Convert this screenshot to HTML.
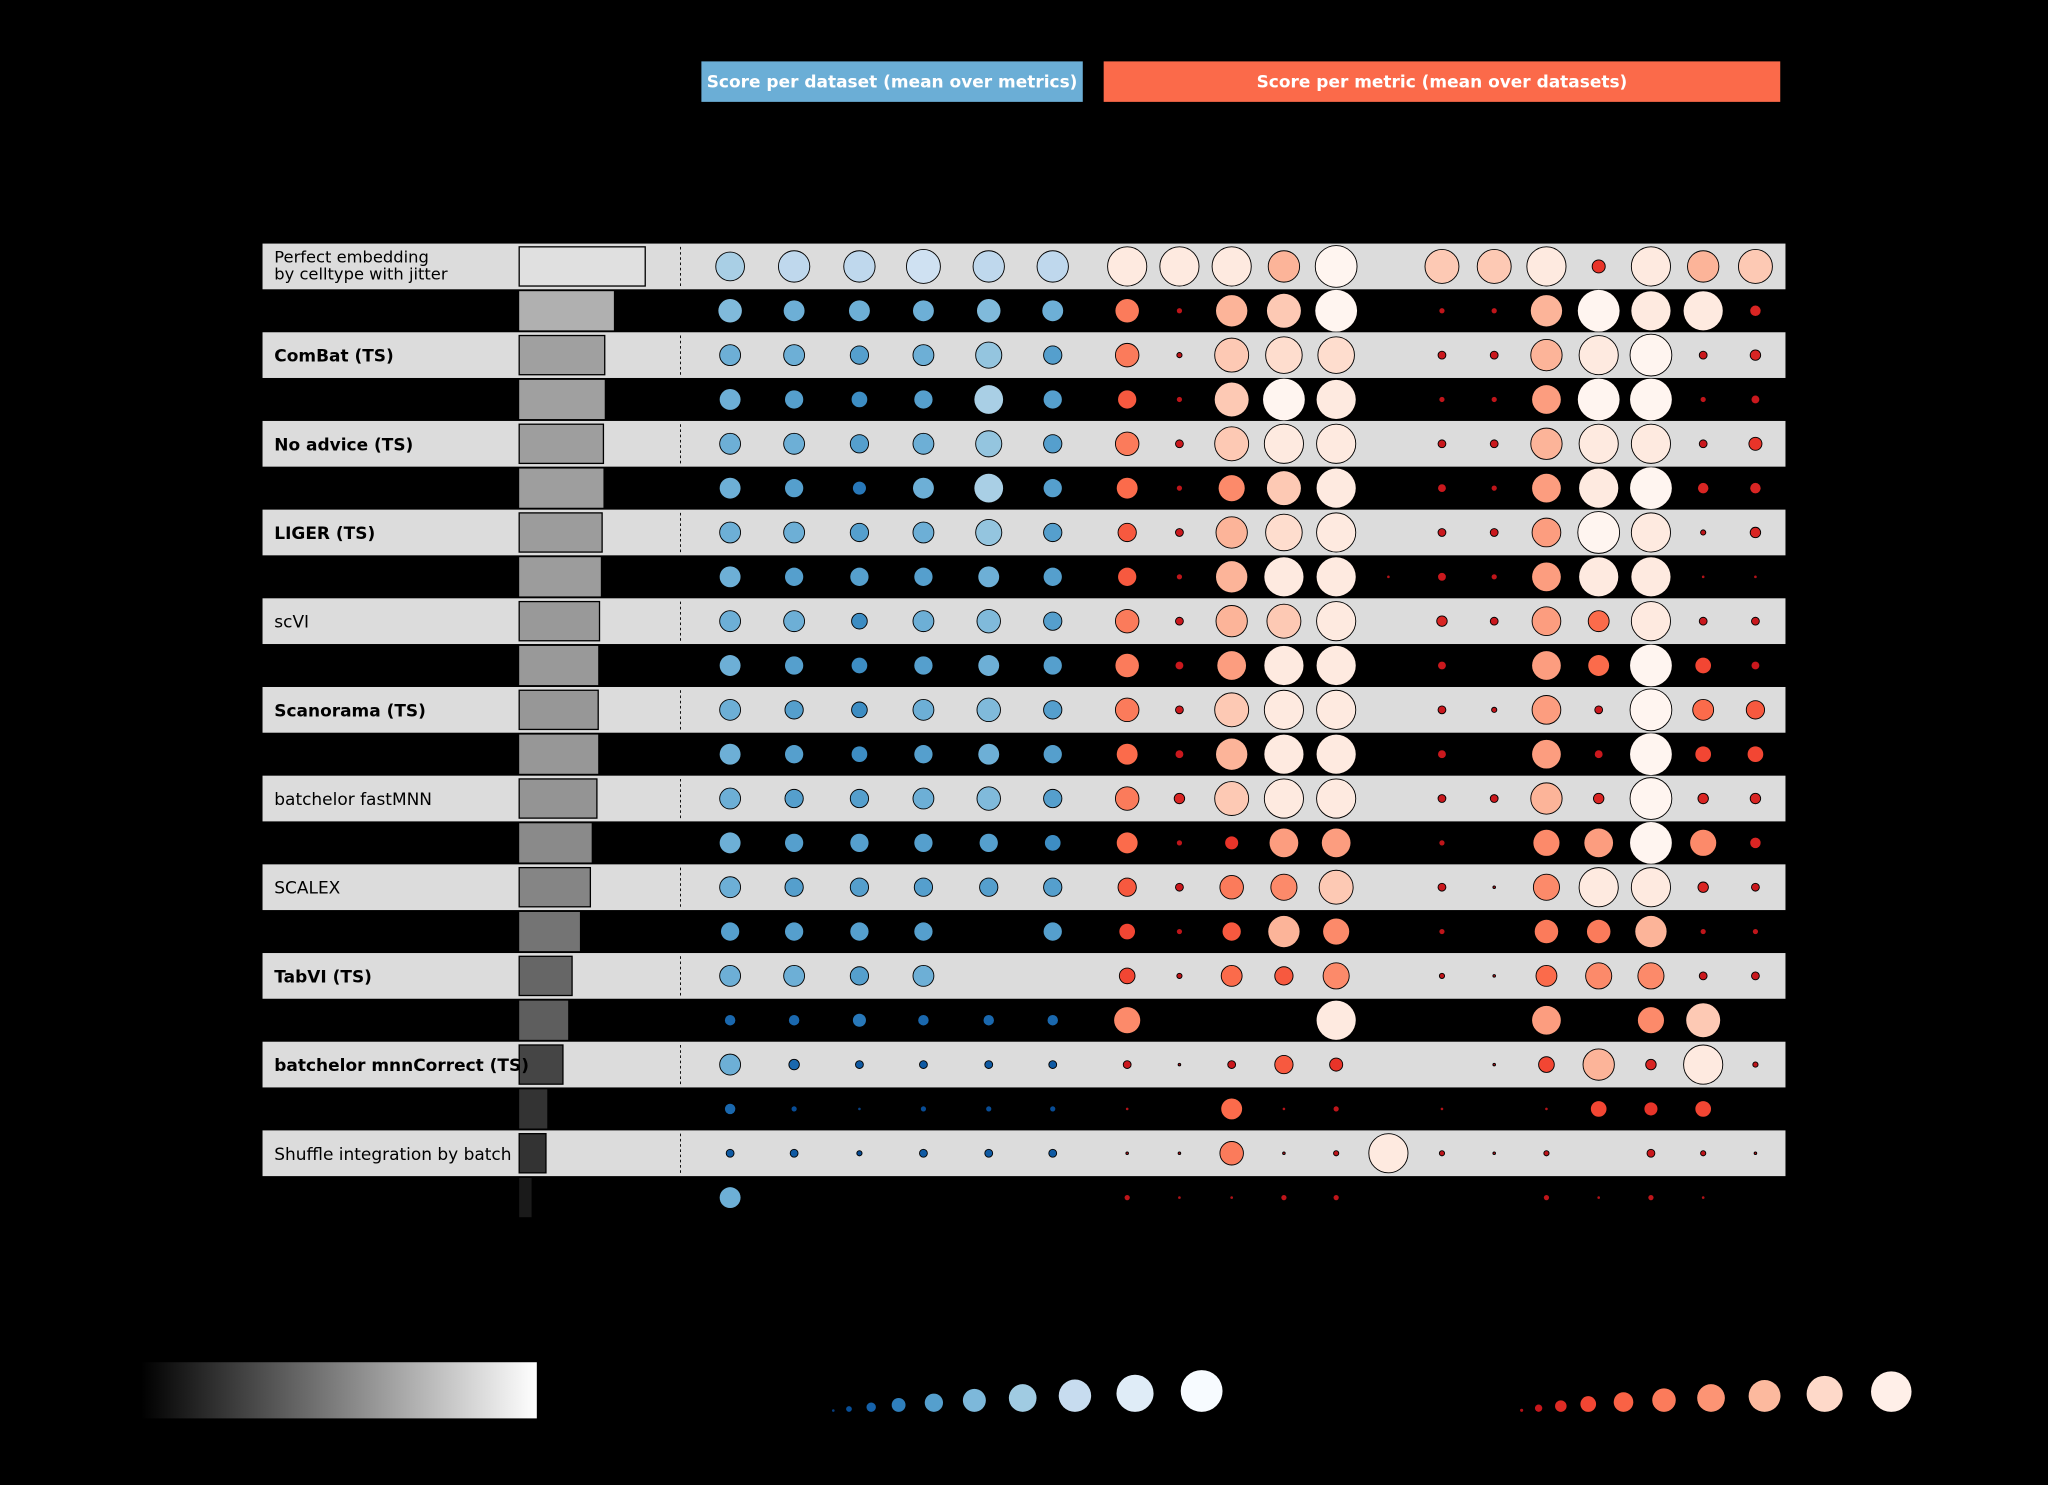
<!DOCTYPE html>
<html><head><meta charset="utf-8"><style>
html,body{margin:0;padding:0;background:#000;}
svg{display:block;}
text{font-family:"DejaVu Sans","Liberation Sans",sans-serif;}
</style></head><body>
<svg id="s" width="2048" height="1485" viewBox="0 0 1568 1137" preserveAspectRatio="none" xmlns="http://www.w3.org/2000/svg">
<defs><linearGradient id="g" x1="0" x2="1" y1="0" y2="0"><stop offset="0" stop-color="#000"/><stop offset="1" stop-color="#fff"/></linearGradient></defs>
<rect width="1568" height="1137" fill="#000"/>
<rect x="537" y="47" width="292" height="31" fill="#6baed6"/>
<text x="683" y="67" fill="#fff" font-size="13" font-weight="bold" text-anchor="middle">Score per dataset (mean over metrics)</text>
<rect x="845" y="47" width="518" height="31" fill="#fb6a4a"/>
<text x="1104" y="67" fill="#fff" font-size="13" font-weight="bold" text-anchor="middle">Score per metric (mean over datasets)</text>
<rect x="108" y="1043" width="303" height="43" fill="url(#g)"/>
<g id="c"></g>
</svg>
<script>
var g=document.getElementById('c'),NS='http://www.w3.org/2000/svg';
function el(t,a,txt){var e=document.createElementNS(NS,t);for(var k in a)e.setAttribute(k,a[k]);if(txt)e.textContent=txt;g.appendChild(e);return e;}
function hex(h){return[parseInt(h.substr(1,2),16),parseInt(h.substr(3,2),16),parseInt(h.substr(5,2),16)];}
function interp(st,v){v=Math.pow(Math.max(0,Math.min(1,v)),0.85);for(var i=0;i<st.length-1;i++){if(v<=st[i+1][0]){var a=hex(st[i][1]),b=hex(st[i+1][1]),t=(v-st[i][0])/(st[i+1][0]-st[i][0]);return 'rgb('+a.map(function(x,j){return Math.round(x+(b[j]-x)*t)}).join(',')+')';}}return st[st.length-1][1];}
var RS=[[0,'#a50f15'],[0.25,'#cb181d'],[0.4,'#ef3b2c'],[0.55,'#fb6a4a'],[0.7,'#fc9272'],[0.8,'#fcbba1'],[0.9,'#fee0d2'],[1,'#fff5f0']];
var BS=[[0,'#08306b'],[0.2,'#08519c'],[0.35,'#2171b5'],[0.45,'#4292c6'],[0.55,'#6baed6'],[0.7,'#9ecae1'],[0.8,'#c6dbef'],[1,'#f7fbff']];
var bx=[559,608,658,707,757,806],rx=[863,903,943,983,1023,1063,1104,1144,1184,1224,1264,1304,1344];
var rows=[
["Perfect embedding|by celltype with jitter",0,494,'#e0e0e0',[11,12,12,13,12,12],[15,15,15,12,16,0,13,13,15,5,15,12,13]],
["",0,470,'#b0b0b0',[9,8,8,8,9,8],[9,2,12,13,16,0,2,2,12,16,15,15,4]],
["ComBat (TS)",1,463,'#a0a0a0',[8,8,7,8,10,7],[9,2,13,14,14,0,3,3,12,15,16,3,4]],
["",0,463,'#a0a0a0',[8,7,6,7,11,7],[7,2,13,16,15,0,2,2,11,16,16,2,3]],
["No advice (TS)",1,462,'#9e9e9e',[8,8,7,8,10,7],[9,3,13,15,15,0,3,3,12,15,15,3,5]],
["",0,462,'#9e9e9e',[8,7,5,8,11,7],[8,2,10,13,15,0,3,2,11,15,16,4,4]],
["LIGER (TS)",1,461,'#9c9c9c',[8,8,7,8,10,7],[7,3,12,14,15,0,3,3,11,16,15,2,4]],
["",0,460,'#9c9c9c',[8,7,7,7,8,7],[7,2,12,15,15,1,3,2,11,15,15,1,1]],
["scVI",0,459,'#999',[8,8,6,8,9,7],[9,3,12,13,15,0,4,3,11,8,15,3,3]],
["",0,458,'#999',[8,7,6,7,8,7],[9,3,11,15,15,0,3,0,11,8,16,6,3]],
["Scanorama (TS)",1,458,'#979797',[8,7,6,8,9,7],[9,3,13,15,15,0,3,2,11,3,16,8,7]],
["",0,458,'#979797',[8,7,6,7,8,7],[8,3,12,15,15,0,3,0,11,3,16,6,6]],
["batchelor fastMNN",0,457,'#949494',[8,7,7,8,9,7],[9,4,13,15,15,0,3,3,12,4,16,4,4]],
["",0,453,'#8a8a8a',[8,7,7,7,7,6],[8,2,5,11,11,0,2,0,10,11,16,10,4]],
["SCALEX",0,452,'#858585',[8,7,7,7,7,7],[7,3,9,10,13,0,3,1,10,15,15,4,3]],
["",0,444,'#747474',[7,7,7,7,0,7],[6,2,7,12,10,0,2,0,9,9,12,2,2]],
["TabVI (TS)",1,438,'#666',[8,8,7,8,0,0],[6,2,8,7,10,0,2,1,8,10,10,3,3]],
["",0,435,'#5e5e5e',[4,4,5,4,4,4],[10,0,0,0,15,0,0,0,11,0,10,13,0]],
["batchelor mnnCorrect (TS)",1,431,'#454545',[8,4,3,3,3,3],[3,1,3,7,5,0,0,1,6,12,4,15,2]],
["",0,419,'#333',[4,2,1,2,2,2],[1,0,8,1,2,0,1,0,1,6,5,6,0]],
["Shuffle integration by batch",0,418,'#333',[3,3,2,3,3,3],[1,1,9,1,2,15,2,1,2,0,3,2,1]],
["",0,407,'#1a1a1a',[8,0,0,0,0,0],[2,1,1,2,2,0,0,0,2,1,2,1,0]]
];
rows.forEach(function(r,i){
 var y=204+i*33.95,gray=(i%2==0);
 if(gray){el('rect',{x:201,y:y-17.5,width:1166,height:35,fill:'#dcdcdc'});
  el('line',{x1:521,x2:521,y1:y-15,y2:y+15,stroke:'#000','stroke-width':0.7,'stroke-dasharray':'2,2'});}
 el('rect',{x:397.5,y:y-15,width:r[2]-397.5,height:30,fill:r[3],stroke:gray?'#000':'none','stroke-width':1});
 if(r[0]){var ls=r[0].split('|');
  if(ls.length==2){el('text',{x:210,y:y-3,'font-size':12.5,fill:'#000'},ls[0]);el('text',{x:210,y:y+10,'font-size':12.5,fill:'#000'},ls[1]);}
  else el('text',{x:210,y:y+5,'font-size':13,fill:'#000','font-weight':r[1]?'bold':'normal'},ls[0]);}
 r[4].forEach(function(v,j){if(v>0)el('circle',{cx:bx[j],cy:y,r:v,fill:interp(BS,v/16),stroke:gray?'#000':'none','stroke-width':0.7});});
 r[5].forEach(function(v,j){if(v>0)el('circle',{cx:rx[j],cy:y,r:v,fill:interp(RS,v/16),stroke:gray?'#000':'none','stroke-width':0.7});});
});
var lb=[[638,1],[650,2.2],[667,3.6],[688,5.3],[715,7],[746,8.8],[783,10.6],[823,12.4],[869,14.2],[920,16]];
lb.forEach(function(p){el('circle',{cx:p[0],cy:1081-p[1],r:p[1],fill:interp(BS,p[1]/16)});});
var lr=[[1165,1.2],[1178,2.8],[1195,4.4],[1216,6],[1243,7.5],[1274,9],[1310,10.6],[1351,12.2],[1397,13.8],[1448,15.5]];
lr.forEach(function(p){el('circle',{cx:p[0],cy:1081-p[1],r:p[1],fill:interp(RS,p[1]/16)});});
</script>
</body></html>
